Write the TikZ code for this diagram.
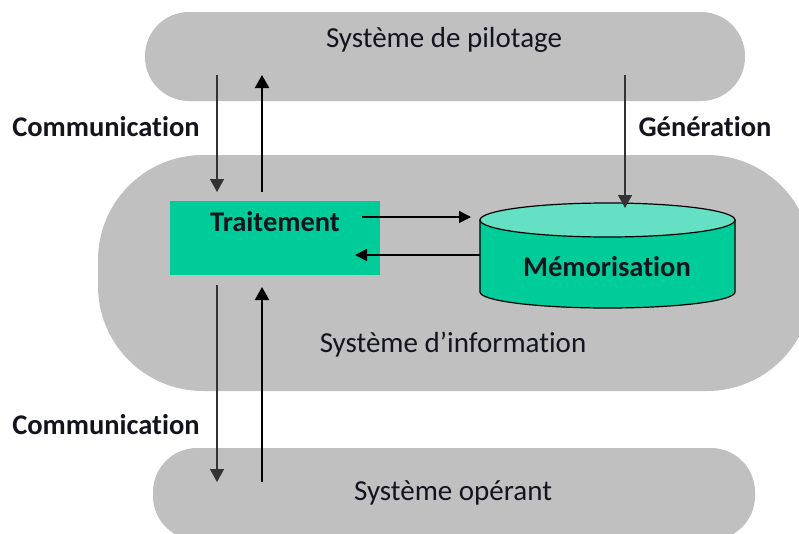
\documentclass[tikz,border=0pt]{standalone}
\usepackage{fontspec}
\setmainfont{Carlito}[Ligatures=CommonOff]
\usetikzlibrary{arrows.meta}
\definecolor{pillgray}{RGB}{192,192,192}
\definecolor{boxgreen}{RGB}{0,204,153}
\definecolor{topgreen}{RGB}{102,224,196}
\definecolor{inkdark}{RGB}{20,20,30}
\begin{document}
\begin{tikzpicture}[x=1pt,y=-1pt,
  pill/.style={fill=pillgray,draw=none},
  plain/.style={font=\fontsize{29}{33}\selectfont,text=inkdark},
  label/.style={font=\bfseries\fontsize{28.5}{33}\selectfont,text=inkdark},
  thinarrow/.style={draw=black!80,line width=1.4pt,-{Triangle[width=14pt,length=13pt]}},
  thickarrow/.style={draw=black,line width=2.2pt,-{Triangle[width=14pt,length=13pt]}},
  flowarrow/.style={draw=black,line width=1.6pt,-{Triangle[width=12pt,length=12pt]}}]
\useasboundingbox (0,0) rectangle (799,533);

% the three system layers
\fill[pill,rounded corners=44] (145,12) rectangle (745,101);
\fill[pill,rounded corners=105] (98,155) rectangle (812,391);
\fill[pill,rounded corners=44] (153,448) rectangle (755,540);

\node[plain] (pilot) at (444,40) {Système de pilotage};
\node[plain] (info) at (453,345) {Système d’information};
\node[plain] (oper) at (453,493) {Système opérant};

% processing box
\node[fill=boxgreen,minimum width=210,minimum height=74,inner sep=0] (proc) at (275,237.5) {};
\node[label] (proctxt) at (275,222) {Traitement};

% storage cylinder
\fill[boxgreen,draw=black,line width=1.2pt]
  (480,220) -- (480,292) arc[start angle=180,end angle=0,x radius=127.5,y radius=16]
  -- (735,220) -- cycle;
\filldraw[fill=topgreen,draw=black,line width=1.2pt] (607.5,220) ellipse[x radius=127.5,y radius=17];
\node[minimum width=255,minimum height=72,inner sep=0] (mem) at (607.5,256) {};
\node[label] (memtxt) at (607,267) {Mémorisation};
\coordinate (memtop) at (625,208);

% side labels
\node[label] (com1) at (106,127) {Communication};
\node[label] (gen) at (705,127) {Génération};
\node[label] (com2) at (106,425) {Communication};

% anchor points on the layers
\coordinate (pA) at (217,75);
\coordinate (pB) at (262,75);
\coordinate (pC) at (625,75);
\coordinate (tA) at (217,192);
\coordinate (tB) at (262,192);
\coordinate (bA) at (217,285);
\coordinate (bB) at (262,287);
\coordinate (oA) at (217,482);
\coordinate (oB) at (262,482);

% exchanges between layers
\draw[thinarrow] (pA) -- (tA);
\draw[thickarrow] (tB) -- (pB);
\draw[thinarrow] (pC) -- (memtop);
\draw[thinarrow] (bA) -- (oA);
\draw[thickarrow] (oB) -- (bB);

% exchanges between processing and storage
\coordinate (procout) at (362,217);
\coordinate (memin) at (471,217);
\coordinate (memout) at (480,255);
\coordinate (procin) at (355,255);
\draw[flowarrow] (procout) -- (memin);
\draw[flowarrow] (memout) -- (procin);
\end{tikzpicture}
\end{document}
